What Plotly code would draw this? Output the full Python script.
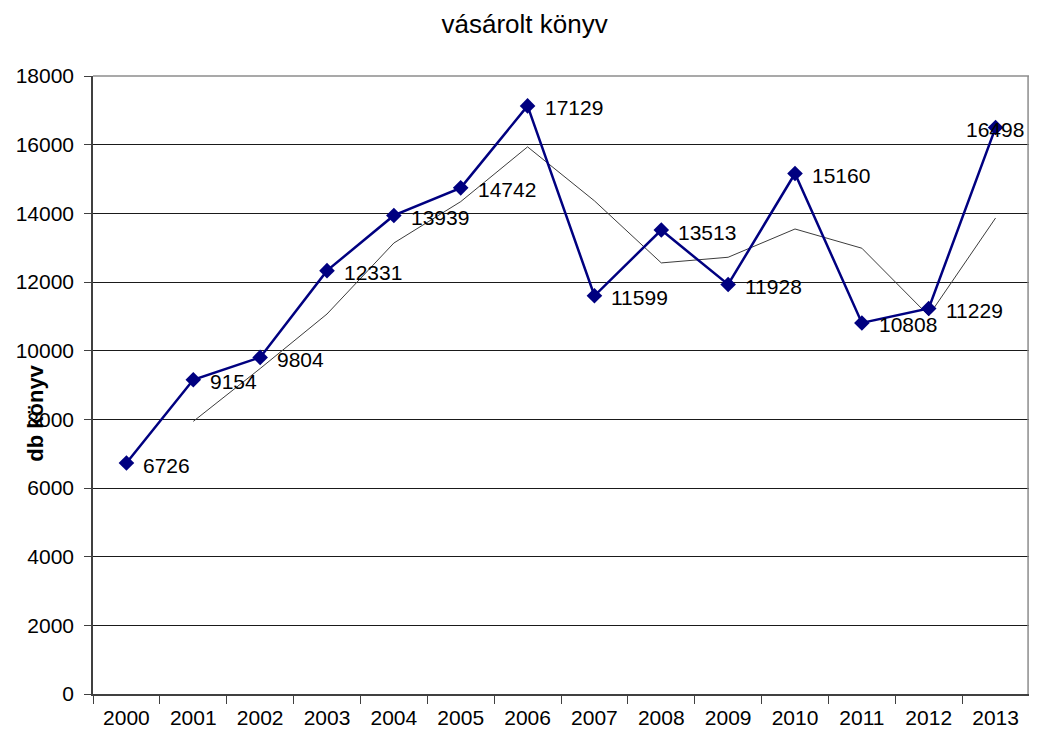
import plotly.graph_objects as go

years = ["2000", "2001", "2002", "2003", "2004", "2005", "2006",
         "2007", "2008", "2009", "2010", "2011", "2012", "2013"]
books = [6726, 9154, 9804, 12331, 13939, 14742, 17129,
         11599, 13513, 11928, 15160, 10808, 11229, 16498]
trend_years = years[1:]
trend_values = [7940, 9479, 11068, 13135, 14341, 15936,
                14364, 12556, 12721, 13544, 12984, 11019, 13864]

FONT = "Liberation Sans, Arial"

fig = go.Figure()
fig.add_trace(go.Scatter(
    x=trend_years, y=trend_values, mode="lines",
    line=dict(color="#3c3c3c", width=1), hoverinfo="skip", showlegend=False))
fig.add_trace(go.Scatter(
    x=years, y=books, mode="lines+markers",
    line=dict(color="#000080", width=2.5),
    marker=dict(symbol="diamond", size=12, color="#000080"),
    cliponaxis=False, showlegend=False))

annotations = []
for i, v in enumerate(books):
    last = i == len(books) - 1
    annotations.append(dict(
        x=i, y=v, xref="x", yref="y", text=str(v), showarrow=False,
        xanchor="center" if last else "left", yanchor="middle",
        xshift=-1 if last else 15, yshift=-2,
        font=dict(family=FONT, size=21, color="#000000")))
annotations.append(dict(text="<b>db könyv</b>", textangle=-90,
                        xref="paper", yref="paper", x=-0.061, y=0.455,
                        xanchor="center", yanchor="middle",
                        showarrow=False, font=dict(size=22)))

fig.update_layout(
    width=1021, height=720,
    margin=dict(l=85, r=0, t=68, b=34, autoexpand=False),
    paper_bgcolor="white", plot_bgcolor="white",
    font=dict(family=FONT, size=21, color="#000000"),
    title=dict(text="vásárolt könyv", x=0.506, xanchor="center",
               y=0.99, yanchor="top", automargin=False,
               font=dict(family=FONT, size=26)),
    xaxis=dict(type="category", categoryorder="array", categoryarray=years,
               range=[-0.5, 13.5], tickson="boundaries", automargin=False,
               ticks="outside", ticklen=8, tickcolor="#404040",
               showline=True, linecolor="#404040", linewidth=1.5,
               showgrid=False, tickfont=dict(size=21), ticklabelstandoff=4),
    yaxis=dict(range=[0, 18000], dtick=2000, tickformat="d", automargin=False,
               ticks="outside", ticklen=7,
               tickcolor="#404040", showline=True, linecolor="#404040",
               linewidth=1.5, gridcolor="#1a1a1a", gridwidth=1,
               zeroline=False, ticklabelstandoff=6, tickfont=dict(size=21)),
    annotations=annotations,
    shapes=[
        dict(type="line", xref="paper", yref="paper", x0=0, x1=1, y0=1, y1=1,
             line=dict(color="#8c8c8c", width=1.5), layer="above"),
        dict(type="line", xref="paper", yref="paper", x0=0.999, x1=0.999, y0=0, y1=1,
             line=dict(color="#8c8c8c", width=1.5), layer="above"),
    ],
)

fig.write_html("out.html")
